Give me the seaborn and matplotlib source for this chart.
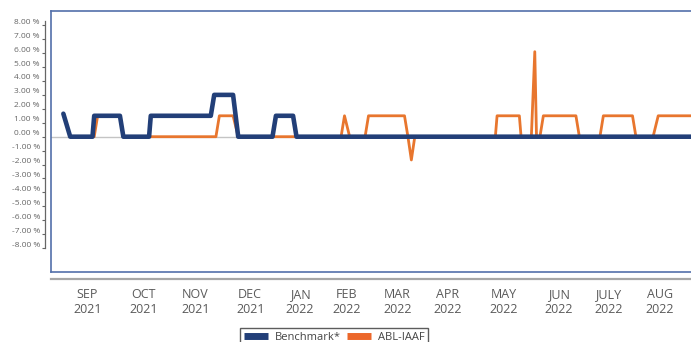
import matplotlib
matplotlib.use("Agg")
import matplotlib.pyplot as plt
import matplotlib.dates as mdates
import matplotlib.transforms as mtransforms
from matplotlib.lines import Line2D
import pandas as pd
import seaborn as sns

# Daily return breakpoints (%)
benchmark_dates = [
    "2021-08-31", "2021-09-04", "2021-09-17", "2021-09-18", "2021-10-03",
    "2021-10-05", "2021-10-20", "2021-10-21", "2021-11-25", "2021-11-27",
    "2021-12-08", "2021-12-11", "2021-12-31", "2022-01-02", "2022-01-12",
    "2022-01-14", "2022-09-03",
]
benchmark_values = [
    1.65, 0.0, 0.0, 1.5, 1.5,
    0.0, 0.0, 1.5, 1.5, 3.0,
    3.0, 0.0, 0.0, 1.5, 1.5,
    0.0, 0.0,
]

fund_dates = [
    "2021-08-31", "2021-09-04", "2021-09-18", "2021-09-20", "2021-10-03",
    "2021-10-05", "2021-11-28", "2021-11-30", "2021-12-08", "2021-12-11",
    "2022-02-09", "2022-02-11", "2022-02-14", "2022-02-23", "2022-02-25",
    "2022-03-18", "2022-03-20", "2022-03-22", "2022-03-24", "2022-05-10",
    "2022-05-11", "2022-05-24", "2022-05-25", "2022-05-31", "2022-06-02",
    "2022-06-03", "2022-06-05", "2022-06-07", "2022-06-26", "2022-06-28",
    "2022-07-10", "2022-07-12", "2022-07-29", "2022-07-31", "2022-08-10",
    "2022-08-13", "2022-09-03",
]
fund_values = [
    1.65, 0.0, 0.0, 1.5, 1.5,
    0.0, 0.0, 1.5, 1.5, 0.0,
    0.0, 1.5, 0.0, 0.0, 1.5,
    1.5, 0.0, -1.67, 0.0, 0.0,
    1.5, 1.5, 0.0, 0.0, 6.1,
    0.0, 0.0, 1.5, 1.5, 0.0,
    0.0, 1.5, 1.5, 0.0, 0.0,
    1.5, 1.5,
]

month_ticks = [
    "2021-09-14", "2021-10-17", "2021-11-16", "2021-12-18", "2022-01-16",
    "2022-02-12", "2022-03-14", "2022-04-12", "2022-05-15", "2022-06-16",
    "2022-07-15", "2022-08-14",
]
month_labels = [
    "SEP\n2021", "OCT\n2021", "NOV\n2021", "DEC\n2021", "JAN\n2022",
    "FEB\n2022", "MAR\n2022", "APR\n2022", "MAY\n2022", "JUN\n2022",
    "JULY\n2022", "AUG\n2022",
]
y_ticks = list(range(-8, 9))
series_names = ["Benchmark*", "ABL-IAAF"]

NAVY = "#223f78"
ORANGE = "#e8762e"
ORANGE_KEY = "#ec672a"
FRAME = "#5370aa"
TEXT = "#5a5a5a"

sns.set_style("white")
plt.rcParams["font.family"] = ["Open Sans", "DejaVu Sans"]

fig = plt.figure(figsize=(6.91, 3.42), dpi=100)
ax = fig.add_axes([51 / 691, 70 / 342, 642 / 691, 261 / 342])

bench = pd.DataFrame({"date": pd.to_datetime(benchmark_dates), "ret": benchmark_values})
fund = pd.DataFrame({"date": pd.to_datetime(fund_dates), "ret": fund_values})

ax.axhline(0, color="#c4c4c4", linewidth=1.0, zorder=1)
sns.lineplot(data=fund, x="date", y="ret", color=ORANGE, linewidth=2.0,
             ax=ax, zorder=3, estimator=None)
sns.lineplot(data=bench, x="date", y="ret", color=NAVY, linewidth=3.3,
             ax=ax, zorder=4, estimator=None)

ax.set_xlim(pd.Timestamp("2021-08-23 19:00"), pd.Timestamp("2022-09-02 07:00"))
ax.set_ylim(-9.71, 9.02)
ax.set_xlabel("")
ax.set_ylabel("")
ax.set_xticks([])
ax.set_yticks([])
for side in ["left", "right", "top", "bottom"]:
    ax.spines[side].set_color(FRAME)
    ax.spines[side].set_linewidth(1.2)

# Percentage scale drawn just left of the frame
ysec = ax.secondary_yaxis(-0.0086)
ysec.set_yticks(y_ticks)
ysec.set_yticklabels([f"{v:.2f} %" for v in y_ticks])
ysec.spines["left"].set_bounds(-8, 8.3)
ysec.spines["left"].set_color("#666666")
ysec.spines["left"].set_linewidth(0.9)
ysec.tick_params(axis="y", length=2.5, width=0.8, color="#666666",
                 labelsize=6, labelcolor="#666666", pad=1.5)
lift = mtransforms.ScaledTranslation(0, 4 / 100, fig.dpi_scale_trans)
for lab in ysec.get_yticklabels():
    lab.set_transform(lab.get_transform() + lift)

# Month axis below the frame
xsec = ax.secondary_xaxis(-0.027)
xsec.set_xticks(mdates.date2num(pd.to_datetime(month_ticks)))
xsec.set_xticklabels(month_labels)
xsec.spines["bottom"].set_color("#a6a6a6")
xsec.spines["bottom"].set_linewidth(1.6)
xsec.tick_params(axis="x", length=0, labelcolor=TEXT, pad=6.5)
for lab in xsec.get_xticklabels():
    lab.set_fontfamily(["Liberation Sans Narrow", "Open Sans", "DejaVu Sans"])
    lab.set_fontsize(9)
    lab.set_linespacing(1.15)

handles = [Line2D([], [], color=NAVY, linewidth=5, solid_capstyle="butt"),
           Line2D([], [], color=ORANGE_KEY, linewidth=5, solid_capstyle="butt")]
leg = fig.legend(handles, series_names, loc="upper left",
                 bbox_to_anchor=(240 / 691, 1 - 328 / 342), ncol=2,
                 frameon=True, fancybox=False, fontsize=8, handlelength=2.2,
                 handletextpad=0.6, columnspacing=0.5, borderpad=0.35,
                 borderaxespad=0)
leg.get_frame().set_edgecolor("#333333")
leg.get_frame().set_linewidth(1.0)
for t in leg.get_texts():
    t.set_color("#444444")

fig.savefig("out.png", dpi=100)
